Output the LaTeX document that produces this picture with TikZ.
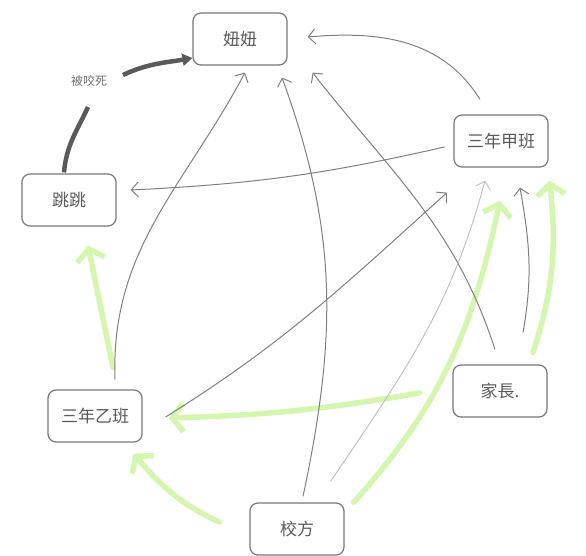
\documentclass[tikz,border=0pt]{standalone}
\usepackage{fontspec}
\newfontfamily\cjk{Noto Sans CJK TC}
\usetikzlibrary{arrows.meta}
\definecolor{boxgray}{RGB}{120,120,120}
\definecolor{linegray}{RGB}{128,128,128}
\definecolor{faintgray}{RGB}{190,190,190}
\definecolor{darkarc}{RGB}{90,90,90}
\definecolor{lgreen}{RGB}{212,246,175}
\definecolor{txtgray}{RGB}{90,90,90}
\begin{document}
\begin{tikzpicture}[x=1pt,y=1pt,
  entity/.style={draw=boxgray, line width=1.2pt, rounded corners=8pt,
    minimum width=94pt, minimum height=52pt, inner sep=0pt, fill=white,
    font=\cjk\fontsize{17}{17}\selectfont, text=txtgray},
  lbl/.style={font=\cjk\fontsize{12}{12}\selectfont, text=txtgray!85, inner sep=1pt},
  thinarrow/.style={draw=linegray, line width=1pt, -{Straight Barb[length=7pt,width=15pt]}},
  faintarrow/.style={draw=faintgray, line width=0.9pt, -{Straight Barb[length=7pt,width=15pt]}},
  greenarrow/.style={draw=lgreen, line width=5.5pt, line cap=round, -{Straight Barb[length=11pt,width=28pt]}},
  thickarc/.style={draw=darkarc, line width=4.5pt},
]
\useasboundingbox (0,0) rectangle (586,-556);

% nodes
\node[entity] (niu)  at (240,-39)  {妞妞};
\node[entity] (tiao) at (69,-200)  {跳跳};
\node[entity] (jia)  at (501,-141) {三年甲班};
\node[entity] (yi)   at (95,-416)  {三年乙班};
\node[entity] (jz)   at (500,-391) {家長.};
\node[entity] (xiao) at (297,-529) {校方};
\node[lbl]    (lab)  at (89,-81)   {被咬死};

% green arrows
\draw[greenarrow] ([shift={(18pt,22pt)}]yi.north) -- ([shift={(19pt,-19pt)}]tiao.south);
\draw[greenarrow] ([shift={(-33pt,-2pt)}]jz.west) to[bend left=4] ([shift={(26pt,-2pt)}]yi.east);
\draw[greenarrow] ([shift={(-30pt,7pt)}]xiao.west) to[out=155,in=-50] ([shift={(-9pt,-11pt)}]yi.south east);
\draw[greenarrow] ([shift={(9pt,0pt)}]xiao.north east) to[out=48,in=-102] ([shift={(-1pt,-33pt)}]jia.south);
\draw[greenarrow] ([shift={(33pt,12pt)}]jz.north) to[out=72,in=-84] ([shift={(1pt,-13pt)}]jia.south east);

% thick arc with label
\draw[thickarc] ([shift={(-5pt,1pt)}]tiao.north) to[out=85,in=245] ([shift={(-1pt,-26pt)}]lab.center);
\draw[thickarc, -{Triangle[length=10pt,width=12pt]}] ([shift={(34pt,6pt)}]lab.center) to[out=25,in=190] ([yshift=-19pt]niu.west);

% thin arrows
\draw[thinarrow] ([shift={(-21pt,15pt)}]jia.north) to[out=122,in=5] ([shift={(20pt,2pt)}]niu.east);
\draw[thinarrow] ([shift={(-9pt,-6pt)}]jia.west) to[bend left=5] ([shift={(14pt,10pt)}]tiao.east);
\draw[thinarrow] ([shift={(20pt,10pt)}]yi.north) to[out=92,in=242] ([shift={(5pt,-7pt)}]niu.south);
\draw[thinarrow] ([shift={(6pt,6pt)}]xiao.north) to[out=78,in=-70] ([shift={(42pt,-12pt)}]niu.south);
\draw[thinarrow] ([shift={(-5pt,15pt)}]jz.north) to[out=108,in=-52] ([shift={(25pt,-7pt)}]niu.south east);
\draw[thinarrow] ([shift={(23pt,-1pt)}]yi.east) to[out=32,in=-138] ([shift={(-54pt,-25pt)}]jia.south);
\draw[faintarrow] ([shift={(-14pt,21pt)}]xiao.north east) to[out=56,in=-105] ([shift={(-16pt,-13pt)}]jia.south);
\draw[thinarrow] ([shift={(23pt,32pt)}]jz.north) to[out=80,in=-80] ([shift={(19pt,-20pt)}]jia.south);
\end{tikzpicture}
\end{document}
